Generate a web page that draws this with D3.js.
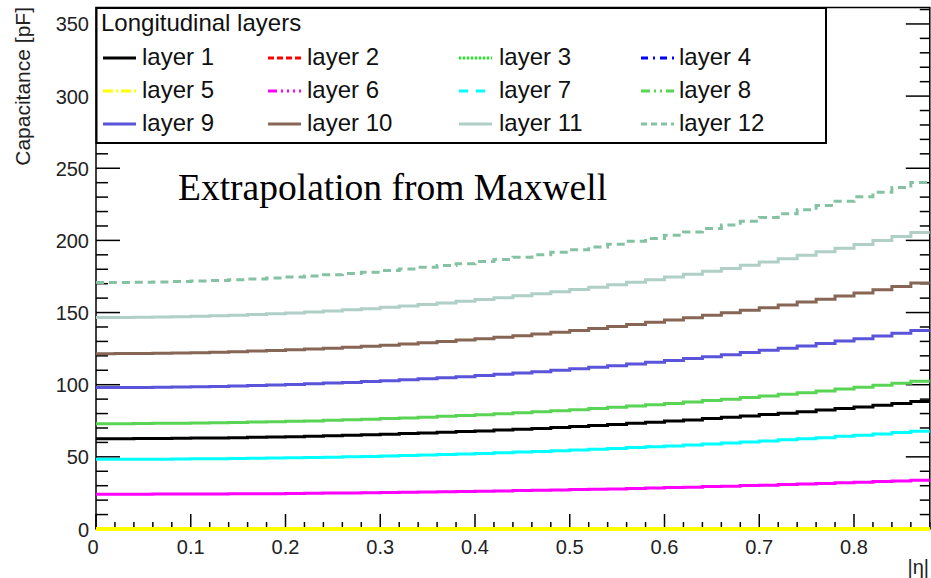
<!DOCTYPE html>
<html>
<head>
<meta charset="utf-8">
<script src="https://cdn.jsdelivr.net/npm/d3@7"></script>
<style>
  html, body { margin: 0; padding: 0; background: #fff; }
  svg { display: block; }
</style>
</head>
<body>
<div id="chart"></div>
<script>
// bin edges in |eta| (0.02 wide)
const etaEdges = [0, 0.02, 0.04, 0.06, 0.08, 0.10, 0.12, 0.14, 0.16, 0.18, 0.20, 0.22, 0.24, 0.26, 0.28, 0.30,
    0.32, 0.34, 0.36, 0.38, 0.40, 0.42, 0.44, 0.46, 0.48, 0.50, 0.52, 0.54, 0.56, 0.58, 0.60,
    0.62, 0.64, 0.66, 0.68, 0.70, 0.72, 0.74, 0.76, 0.78, 0.80, 0.82, 0.84, 0.86, 0.88];

// capacitance per bin [pF]
const layer1 = [62.6, 62.6, 62.7, 62.8, 62.9, 63.0, 63.1, 63.3, 63.5, 63.7, 64.0, 64.3, 64.6, 64.9, 65.3,
    65.7, 66.1, 66.6, 67.0, 67.5, 68.0, 68.6, 69.1, 69.7, 70.4, 71.0, 71.7, 72.4, 73.2, 74.0,
    74.8, 75.6, 76.5, 77.4, 78.3, 79.3, 80.3, 81.3, 82.4, 83.5, 84.6, 85.8, 87.0, 88.3];
const layer2 = [0, 0, 0, 0, 0, 0, 0, 0, 0, 0, 0, 0, 0, 0, 0, 0, 0, 0, 0, 0, 0, 0,
    0, 0, 0, 0, 0, 0, 0, 0, 0, 0, 0, 0, 0, 0, 0, 0, 0, 0, 0, 0, 0, 0];
const layer3 = [0, 0, 0, 0, 0, 0, 0, 0, 0, 0, 0, 0, 0, 0, 0, 0, 0, 0, 0, 0, 0, 0,
    0, 0, 0, 0, 0, 0, 0, 0, 0, 0, 0, 0, 0, 0, 0, 0, 0, 0, 0, 0, 0, 0];
const layer4 = [0, 0, 0, 0, 0, 0, 0, 0, 0, 0, 0, 0, 0, 0, 0, 0, 0, 0, 0, 0, 0, 0,
    0, 0, 0, 0, 0, 0, 0, 0, 0, 0, 0, 0, 0, 0, 0, 0, 0, 0, 0, 0, 0, 0];
const layer5 = [0, 0, 0, 0, 0, 0, 0, 0, 0, 0, 0, 0, 0, 0, 0, 0, 0, 0, 0, 0, 0, 0,
    0, 0, 0, 0, 0, 0, 0, 0, 0, 0, 0, 0, 0, 0, 0, 0, 0, 0, 0, 0, 0, 0];
const layer6 = [24.1, 24.1, 24.1, 24.2, 24.2, 24.2, 24.3, 24.4, 24.4, 24.5, 24.6, 24.7, 24.9, 25.0, 25.1,
    25.3, 25.4, 25.6, 25.8, 26.0, 26.2, 26.4, 26.6, 26.8, 27.1, 27.3, 27.6, 27.8, 28.1, 28.4,
    28.7, 29.0, 29.4, 29.7, 30.1, 30.4, 30.8, 31.2, 31.6, 32.0, 32.4, 32.9, 33.3, 33.8];
const layer7 = [48.3, 48.3, 48.4, 48.4, 48.5, 48.6, 48.7, 48.8, 49.0, 49.2, 49.4, 49.6, 49.8, 50.1, 50.3,
    50.6, 51.0, 51.3, 51.6, 52.0, 52.4, 52.8, 53.3, 53.7, 54.2, 54.7, 55.2, 55.8, 56.4, 57.0,
    57.6, 58.2, 58.9, 59.6, 60.3, 61.0, 61.8, 62.5, 63.3, 64.2, 65.0, 65.9, 66.8, 67.8];
const layer8 = [73.0, 73.0, 73.1, 73.2, 73.3, 73.4, 73.6, 73.8, 74.1, 74.3, 74.6, 74.9, 75.3, 75.7, 76.1,
    76.5, 77.0, 77.5, 78.1, 78.6, 79.2, 79.9, 80.5, 81.2, 81.9, 82.7, 83.5, 84.3, 85.2, 86.1,
    87.0, 88.0, 89.0, 90.0, 91.1, 92.2, 93.3, 94.5, 95.7, 97.0, 98.3, 99.6, 101.0, 102.4];
const layer9 = [98.0, 98.0, 98.1, 98.2, 98.4, 98.6, 98.8, 99.1, 99.4, 99.8, 100.2, 100.6, 101.1, 101.6, 102.2,
    102.7, 103.4, 104.1, 104.8, 105.5, 106.4, 107.2, 108.1, 109.0, 110.0, 111.0, 112.1, 113.2, 114.4, 115.6,
    116.8, 118.1, 119.4, 120.8, 122.3, 123.8, 125.3, 126.9, 128.5, 130.2, 131.9, 133.7, 135.6, 137.5];
const layer10 = [121.5, 121.6, 121.7, 121.8, 122.0, 122.2, 122.5, 122.9, 123.3, 123.7, 124.2, 124.7, 125.3, 126.0, 126.6,
    127.4, 128.2, 129.0, 129.9, 130.9, 131.9, 132.9, 134.0, 135.2, 136.4, 137.6, 139.0, 140.3, 141.8, 143.3,
    144.8, 146.4, 148.1, 149.8, 151.6, 153.4, 155.3, 157.3, 159.3, 161.4, 163.6, 165.8, 168.1, 170.5];
const layer11 = [146.5, 146.6, 146.7, 146.9, 147.1, 147.4, 147.7, 148.2, 148.6, 149.2, 149.7, 150.4, 151.1, 151.9, 152.7,
    153.6, 154.6, 155.6, 156.6, 157.8, 159.0, 160.3, 161.6, 163.0, 164.4, 166.0, 167.6, 169.2, 171.0, 172.7,
    174.6, 176.5, 178.6, 180.6, 182.8, 185.0, 187.3, 189.7, 192.1, 194.6, 197.2, 199.9, 202.7, 205.5];
const layer12 = [170.8, 170.9, 171.0, 171.2, 171.5, 171.8, 172.2, 172.7, 173.3, 173.9, 174.6, 175.3, 176.2, 177.1, 178.0,
    179.1, 180.2, 181.4, 182.6, 183.9, 185.3, 186.8, 188.4, 190.0, 191.8, 193.6, 195.4, 197.3, 199.4, 201.4,
    203.6, 205.9, 208.2, 210.7, 213.2, 215.8, 218.5, 221.3, 224.2, 227.1, 230.2, 233.4, 236.7, 240.1];

const layerNames = ["layer 1", "layer 2", "layer 3", "layer 4", "layer 5", "layer 6",
    "layer 7", "layer 8", "layer 9", "layer 10", "layer 11", "layer 12"];
const layerValues = [layer1, layer2, layer3, layer4, layer5, layer6,
    layer7, layer8, layer9, layer10, layer11, layer12];
const yTicks = [0, 50, 100, 150, 200, 250, 300, 350];
const xTicks = [0, 0.1, 0.2, 0.3, 0.4, 0.5, 0.6, 0.7, 0.8];

// ROOT-like colours and line styles
const colors = ["#000000", "#ff0000", "#00ff00", "#0000ff", "#ffff00", "#ff00ff",
    "#00ffff", "#59d454", "#5954d9", "#876656", "#b0cfc7", "#85c2a3"];
const legendDash = [null, "6,3", "2,2", "7,5,2,5", "10,3,2,3", "9,4,2,4,2,4,2,4",
    "9,8", "9,4,2,4,2,4", null, null, null, "6,4"];
const plotDash = [null, "6,3", "2,2", "7,5,2,5", null, null, null, null, null, null, null, "8,5"];

const width = 931, height = 578;
const fontSans = "'Liberation Sans', Arial, Helvetica, sans-serif";

const svg = d3.select("#chart").append("svg")
    .attr("width", width)
    .attr("height", height)
    .style("font-family", fontSans);

const x = d3.scaleLinear().domain([0, 0.88]).range([96, 929.8]);
const y = d3.scaleLinear().domain([0, 361.4]).range([529, 7.5]);

// frame
svg.append("rect")
    .attr("x", x(0)).attr("y", y.range()[1])
    .attr("width", x(0.88) - x(0)).attr("height", y(0) - y.range()[1])
    .attr("fill", "none").attr("stroke", "#000").attr("stroke-width", 1.5);

// y ticks (left + right, inward)
const yMinor = d3.range(0, 361, 10);
const tickG = svg.append("g").attr("stroke", "#000").attr("stroke-width", 1.5);
yMinor.forEach(v => {
    const major = v % 50 === 0;
    tickG.append("line").attr("x1", x(0)).attr("x2", x(0) + (major ? 24 : 12)).attr("y1", y(v)).attr("y2", y(v));
    tickG.append("line").attr("x1", x(0.88)).attr("x2", x(0.88) - (major ? 24 : 10)).attr("y1", y(v)).attr("y2", y(v));
});
// x ticks (bottom, inward)
d3.range(0, 0.881, 0.02).forEach(v => {
    const major = Math.abs(v * 10 - Math.round(v * 10)) < 1e-6;
    tickG.append("line").attr("x1", x(v)).attr("x2", x(v))
        .attr("y1", y(0)).attr("y2", y(0) - (major ? 15 : 7));
});

// histograms (step lines), drawn over the frame
const line = d3.line()
    .x(d => x(d[0]))
    .y(d => y(d[1]))
    .curve(d3.curveStepAfter);

layerValues.forEach((vals, i) => {
    const pts = vals.map((v, j) => [etaEdges[j], v]);
    pts.push([etaEdges[etaEdges.length - 1], vals[vals.length - 1]]);
    svg.append("path")
        .datum(pts)
        .attr("d", line)
        .attr("fill", "none")
        .attr("stroke", colors[i])
        .attr("stroke-width", i === 4 ? 4 : 3)
        .attr("stroke-dasharray", plotDash[i]);
});

svg.append("g").selectAll("text")
    .data(yTicks).enter().append("text")
    .attr("x", 89)
    .attr("y", d => y(d) + 7.5)
    .attr("text-anchor", "end")
    .attr("font-size", 20)
    .attr("fill", "#222")
    .text(d => d);

svg.append("g").selectAll("text")
    .data(xTicks).enter().append("text")
    .attr("x", d => d === 0 ? x(d) - 3 : x(d))
    .attr("y", 554)
    .attr("text-anchor", "middle")
    .attr("font-size", 20)
    .attr("fill", "#222")
    .text(d => d);

// axis titles
svg.append("text")
    .attr("transform", "translate(30,7) rotate(-90)")
    .attr("text-anchor", "end")
    .attr("font-size", 21)
    .attr("fill", "#222")
    .text("Capacitance [pF]");

svg.append("text")
    .attr("x", 929)
    .attr("y", 574)
    .attr("text-anchor", "end")
    .attr("font-size", 20)
    .attr("fill", "#222")
    .text("|η|");

// annotation
svg.append("text")
    .attr("x", 178)
    .attr("y", 200)
    .attr("font-family", "'Liberation Serif', 'Times New Roman', serif")
    .attr("font-size", 37.5)
    .attr("fill", "#000")
    .text("Extrapolation from Maxwell");

// legend
const legend = svg.append("g");
legend.append("rect")
    .attr("x", 96.5).attr("y", 8)
    .attr("width", 729.5).attr("height", 135)
    .attr("fill", "#fff").attr("stroke", "#000").attr("stroke-width", 2);

legend.append("text")
    .attr("x", 101).attr("y", 31)
    .attr("font-size", 24)
    .attr("fill", "#111")
    .text("Longitudinal layers");

const colSample = [103, 268, 459, 641];
const colText = [142, 307, 499, 679];
const rowBase = [64.5, 97.5, 130.5];

layerNames.forEach((name, i) => {
    const c = i % 4, r = Math.floor(i / 4);
    legend.append("line")
        .attr("x1", colSample[c]).attr("x2", colSample[c] + 33)
        .attr("y1", rowBase[r] - 6.5).attr("y2", rowBase[r] - 6.5)
        .attr("stroke", colors[i])
        .attr("stroke-width", 3)
        .attr("stroke-dasharray", legendDash[i]);
    legend.append("text")
        .attr("x", colText[c]).attr("y", rowBase[r])
        .attr("font-size", 24)
        .attr("fill", "#111")
        .text(name);
});
</script>
</body>
</html>
